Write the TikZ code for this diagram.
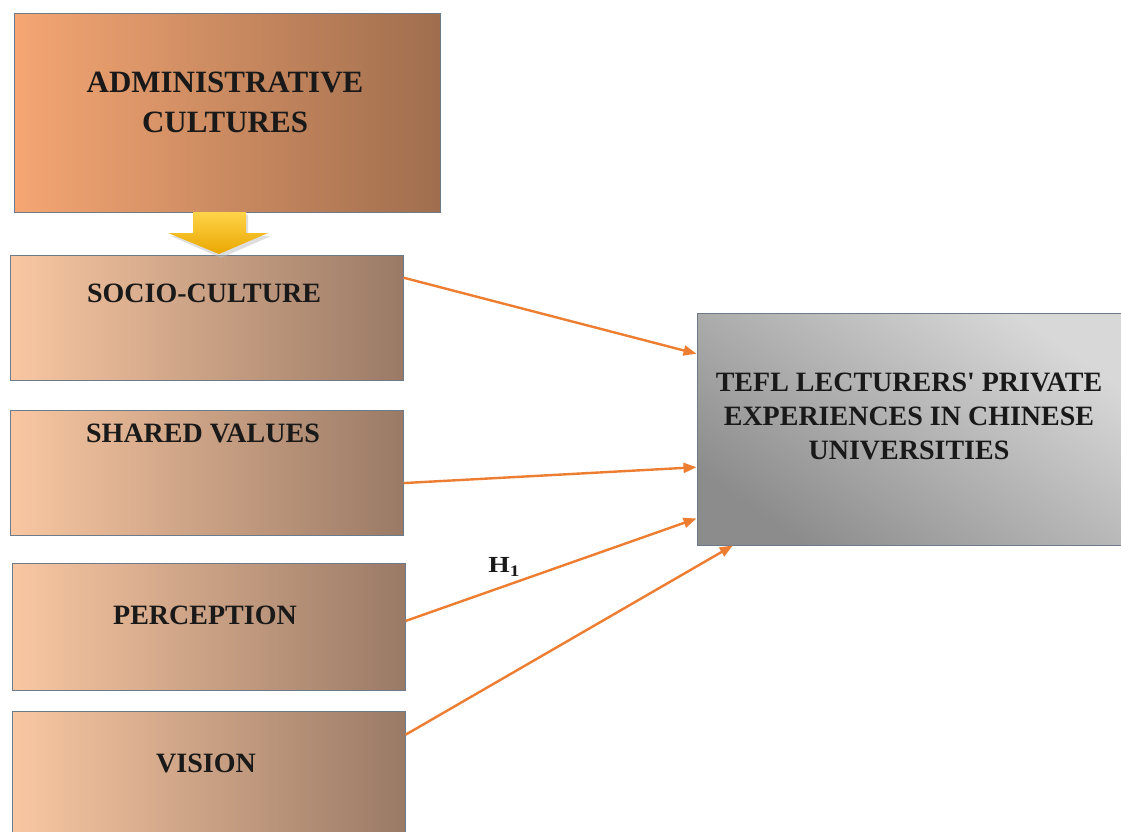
\documentclass[tikz,border=0pt]{standalone}
\usepackage{fontspec}
\setmainfont{Liberation Serif}
\usetikzlibrary{arrows.meta,calc}
\definecolor{admL}{HTML}{F5A673}
\definecolor{admR}{HTML}{A06E4E}
\definecolor{boxL}{HTML}{F9C7A2}
\definecolor{boxR}{HTML}{9A7A66}
\definecolor{teflL}{HTML}{D8D8D8}
\definecolor{teflD}{HTML}{8C8C8C}
\definecolor{edge}{HTML}{6B7B8C}
\definecolor{arr}{HTML}{ED7D31}
\definecolor{yelT}{HTML}{FFD44A}
\definecolor{yelB}{HTML}{E9A700}
\tikzset{
  admbox/.style={draw=edge, line width=1pt, left color=admL, right color=admR, inner sep=0pt},
  facbox/.style={draw=edge, line width=1pt, left color=boxL, right color=boxR, inner sep=0pt, minimum width=393pt},
  teflbox/.style={draw=edge, line width=1pt, top color=teflL, bottom color=teflD, shading angle=-35, inner sep=0pt},
  lbl/.style={font=\fontsize{28}{34}\selectfont\bfseries, text=black!90, align=center, inner sep=0pt},
  conn/.style={draw=arr, line width=2.4pt, -{Triangle[length=13pt,width=10pt]}}
}
\begin{document}
\begin{tikzpicture}[x=1pt,y=-1pt]
\clip (0,0) rectangle (1121,831);
\fill[white] (0,0) rectangle (1121,831);
% boxes
\node[admbox, minimum width=426pt, minimum height=199pt] (adm) at (227,112.5) {};
\node[facbox, minimum height=125pt] (socio) at (206.5,317.5) {};
\node[facbox, minimum height=125pt] (shared) at (206.5,472.5) {};
\node[facbox, minimum height=127pt] (perc) at (208.5,626.5) {};
\node[facbox, minimum height=130pt] (vis) at (208.5,776) {};
\node[teflbox, minimum width=426pt, minimum height=232pt] (tefl) at (910,429) {};
% texts
\node[lbl, font=\fontsize{31}{40}\selectfont\bfseries] (admT) at (225,102) {ADMINISTRATIVE\\CULTURES};
\node[lbl] (socioT) at (204,293) {SOCIO-CULTURE};
\node[lbl] (sharedT) at (203,433) {SHARED VALUES};
\node[lbl] (percT) at (205,615) {PERCEPTION};
\node[lbl] (visT) at (206,763) {VISION};
\node[lbl] (teflT) at (909,416) {TEFL LECTURERS\textquotesingle{} PRIVATE\\EXPERIENCES IN CHINESE\\UNIVERSITIES};
\node[lbl, font=\fontsize{23}{23}\selectfont\bfseries] (h1) at (504,567) {\scalebox{1.2}[1]{H\raisebox{-0.35ex}{\fontsize{16}{16}\selectfont 1}}};
% yellow block arrow
\fill[black!25, opacity=0.5] (196,215) -- (248,215) -- (248,236) -- (271,236) -- (221,258) -- (171,236) -- (196,236) -- cycle;
\shade[top color=yelT, bottom color=yelB] (193,212) -- (246,212) -- (246,233) -- (268,233) -- (219,254) -- (168,233) -- (193,233) -- cycle;
% connectors
\coordinate (s1) at ($(socio.north east)!0.184!(socio.south east)$);
\coordinate (e1) at ($(tefl.north west)!0.177!(tefl.south west)$);
\coordinate (s2) at ($(shared.north east)!0.584!(shared.south east)$);
\coordinate (e2) at ($(tefl.north west)!0.664!(tefl.south west)$);
\coordinate (s3) at ($(perc.north east)!0.457!(perc.south east)$);
\coordinate (e3) at ($(tefl.north west)!0.884!(tefl.south west)$);
\coordinate (s4) at ($(vis.north east)!0.185!(vis.south east)$);
\coordinate (e4) at ($(tefl.south west)!0.085!(tefl.south east)$);
\draw[conn] (s1) -- (e1);
\draw[conn] (s2) -- (e2);
\draw[conn] (s3) -- (e3);
\draw[conn] (s4) -- (e4);
\end{tikzpicture}
\end{document}
